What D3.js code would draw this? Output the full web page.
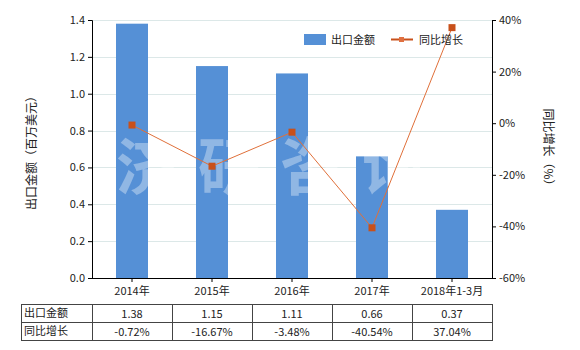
<!DOCTYPE html>
<html><head><meta charset="utf-8">
<script src="https://cdn.jsdelivr.net/npm/d3@7"></script>
<style>body{margin:0;background:#fff;} text{font-family:"Noto Sans CJK SC","Noto Sans",sans-serif;}</style>
</head><body><svg id="c" width="580" height="350"></svg>
<script>
const categories = ["2014年","2015年","2016年","2017年","2018年1-3月"];
const exportValues = [1.38,1.15,1.11,0.66,0.37];
const growthValues = [-0.72,-16.67,-3.48,-40.54,37.04];
const exportLabels = ["1.38","1.15","1.11","0.66","0.37"];
const growthLabels = ["-0.72%","-16.67%","-3.48%","-40.54%","37.04%"];
const leftTicks = [0,0.2,0.4,0.6,0.8,1.0,1.2,1.4];
const rightTicks = [-60,-40,-20,0,20,40];
const seriesNames = ["出口金额","同比增长"];

const svg = d3.select("#c");
const L=92, R=492, T=20, B=278;
const x = d3.scaleBand().domain(categories).range([L,R]);
const yL = d3.scaleLinear().domain([0,1.4]).range([B,T]);
const yR = d3.scaleLinear().domain([-60,40]).range([B,T]);
const fs = 11, tc="#222";

// grid
svg.append("g").selectAll("line").data(leftTicks.slice(1)).join("line")
 .attr("x1",L).attr("x2",R).attr("y1",d=>Math.round(yL(d))+0.5).attr("y2",d=>Math.round(yL(d))+0.5)
 .attr("stroke","#dce8e8");

// bars
const bw = x.bandwidth()*0.4;
svg.append("g").selectAll("rect").data(exportValues).join("rect")
 .attr("x",(d,i)=>x(categories[i])+x.bandwidth()/2-bw/2).attr("width",bw)
 .attr("y",d=>yL(d)).attr("height",d=>B-yL(d)).attr("fill","#5590d6");

// watermark
svg.append("text").attr("x",280).attr("y",190).attr("text-anchor","middle")
 .attr("font-size",62).attr("font-weight","bold").attr("fill","#fff").attr("opacity",0.35)
 .attr("letter-spacing",20).text("济研咨询");

// line
const cx = i=>x(categories[i])+x.bandwidth()/2;
svg.append("path").datum(growthValues)
 .attr("d",d3.line().x((d,i)=>cx(i)).y(d=>yR(d)))
 .attr("fill","none").attr("stroke","#e0703a").attr("stroke-width",1);
svg.append("g").selectAll("rect").data(growthValues).join("rect")
 .attr("x",(d,i)=>cx(i)-3.5).attr("y",d=>yR(d)-3.5).attr("width",7).attr("height",7).attr("fill","#c8501a");

// axes
const ax = svg.append("g").attr("transform",`translate(${L},0)`)
 .call(d3.axisLeft(yL).tickValues(leftTicks).tickFormat(d3.format(".1f")).tickSize(4));
const ar = svg.append("g").attr("transform",`translate(${R},0)`)
 .call(d3.axisRight(yR).tickValues(rightTicks).tickFormat(d=>d+"%").tickSize(4));
const ab = svg.append("g").attr("transform",`translate(0,${B})`)
 .call(d3.axisBottom(x).tickSize(4));
[ax,ar,ab].forEach(g=>{
 g.selectAll("path,line").attr("stroke","#000");
 g.selectAll("text").attr("font-size",fs).attr("fill",tc).style("font-family",'"Noto Sans CJK SC",sans-serif');
});
ab.select(".domain").attr("d",`M${L},0.5H${R}`);
ab.selectAll("text").attr("dy","0.9em");

// axis titles
svg.append("text").attr("transform","translate(36,150) rotate(-90)").attr("text-anchor","middle")
 .attr("font-size",12).attr("fill",tc).text("出口金额（百万美元）");
svg.append("text").attr("transform","translate(544,150) rotate(90)").attr("text-anchor","middle")
 .attr("font-size",12).attr("fill",tc).text("同比增长（%）");

// legend
svg.append("rect").attr("x",304).attr("y",34).attr("width",22).attr("height",11).attr("fill","#5590d6");
svg.append("text").attr("x",331).attr("y",44).attr("font-size",fs).attr("fill",tc).text(seriesNames[0]);
svg.append("line").attr("x1",391).attr("x2",413).attr("y1",39.5).attr("y2",39.5).attr("stroke","#c8501a").attr("stroke-width",2);
svg.append("rect").attr("x",399).attr("y",37).attr("width",5).attr("height",5).attr("fill","#e07040");
svg.append("text").attr("x",419).attr("y",44).attr("font-size",fs).attr("fill",tc).text(seriesNames[1]);

// table
const tT=304, rh=18, tL=21;
const tg = svg.append("g").attr("stroke","#444").attr("fill","none");
tg.append("rect").attr("x",tL+0.5).attr("y",tT+0.5).attr("width",R-tL).attr("height",rh*2);
tg.append("line").attr("x1",tL).attr("x2",R).attr("y1",tT+rh+0.5).attr("y2",tT+rh+0.5);
[L,...categories.slice(1).map(c=>x(c))].forEach(v=>{
 tg.append("line").attr("x1",Math.round(v)+0.5).attr("x2",Math.round(v)+0.5).attr("y1",tT).attr("y2",tT+rh*2);
});
const rows=[exportLabels,growthLabels];
rows.forEach((r,ri)=>{
 svg.append("text").attr("x",tL+3).attr("y",tT+ri*rh+13).attr("font-size",fs).attr("fill",tc).text(seriesNames[ri]);
 svg.append("g").selectAll("text").data(r).join("text")
  .attr("x",(d,i)=>cx(i)).attr("y",tT+ri*rh+14).attr("text-anchor","middle")
  .attr("font-size",fs).attr("fill",tc).text(d=>d);
});
</script></body></html>
